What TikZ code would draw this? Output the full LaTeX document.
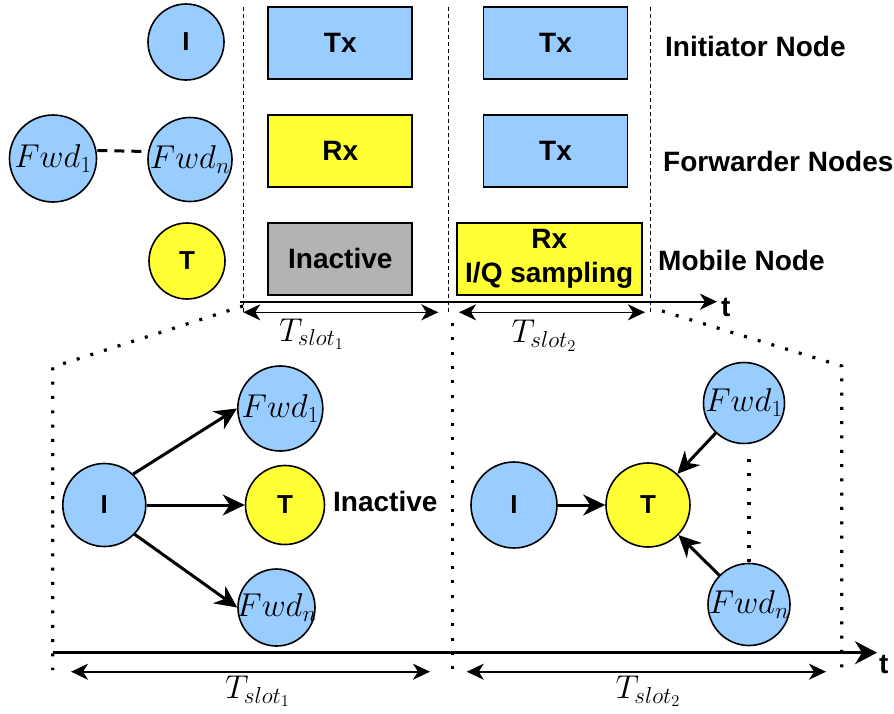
\RequirePackage{fix-cm}
\documentclass[tikz,border=0pt]{standalone}
\usepackage[no-math]{fontspec}
\setmainfont{Liberation Sans}
\usetikzlibrary{arrows.meta}
\definecolor{nblue}{RGB}{153,204,255}
\definecolor{nyellow}{RGB}{255,255,51}
\definecolor{ngray}{RGB}{179,179,179}
\newcommand\lbf{\fontsize{28}{33.5}\selectfont\bfseries}
\newcommand\clbf{\fontsize{26}{30}\selectfont\bfseries}
\newcommand\mthf{\fontsize{33}{38}\selectfont}
\tikzset{
  cir/.style={circle, draw=black, line width=1.6pt, minimum size=#1, inner sep=0pt, font=\clbf},
  mlab/.style={inner sep=0pt, font=\mthf},
  slotbox/.style={draw=black, line width=1.9pt, minimum width=144pt, minimum height=72pt, inner sep=0pt, font=\lbf},
  rowlab/.style={inner sep=0pt, font=\lbf},
  vdash/.style={line width=1.4pt, dash pattern=on 4pt off 3pt},
  dotl/.style={line width=3.2pt, dash pattern=on 3pt off 11.3pt},
  fwddash/.style={line width=3pt, dash pattern=on 10pt off 7pt},
  axisthin/.style={line width=1.8pt, -{Stealth[length=17pt,width=16pt,inset=5pt]}},
  axisthick/.style={line width=3pt, -{Stealth[length=22pt,width=23pt,inset=7pt]}},
  dbl/.style={line width=1.6pt, {Stealth[length=17pt,width=16pt,inset=5pt]}-{Stealth[length=17pt,width=16pt,inset=5pt]}},
  garrow/.style={line width=3pt, -{Stealth[length=22pt,width=21pt,inset=7pt]}}
}
\begin{document}
\begin{tikzpicture}[x=1pt, y=-1pt]
\useasboundingbox (0,0) rectangle (894,713);

% ---------- top part ----------
\node[cir=76pt, fill=nblue] (tI) at (186,42) {I};
\node[cir=87pt, fill=nblue, label={[mlab]center:$Fwd_1$}] (tF1) at (53,158.5) {};
\node[cir=84pt, fill=nblue, label={[mlab]center:$Fwd_n$}] (tFn) at (190,159.5) {};
\node[cir=76pt, fill=nyellow] (tT) at (187,261) {T};
\draw[fwddash] ([yshift=8pt]tF1.east) -- ([yshift=8pt]tFn.west);

\coordinate (d1t) at (243.3,7);  \coordinate (d1b) at (243.3,313);
\coordinate (d2t) at (448.3,7);  \coordinate (d2b) at (448.3,313);
\coordinate (d3t) at (650.7,7);  \coordinate (d3b) at (650.7,313);
\draw[vdash] (d1t) -- (d1b);
\draw[vdash] (d2t) -- (d2b);
\draw[vdash] (d3t) -- (d3b);

\node[slotbox, fill=nblue] (b11) at (340.3,43.3) {Tx};
\node[slotbox, fill=nblue] (b12) at (555.5,43.3) {Tx};
\node[slotbox, fill=nyellow] (b21) at (340.3,151.2) {Rx};
\node[slotbox, fill=nblue] (b22) at (555.5,151.2) {Tx};
\node[slotbox, fill=ngray] (b31) at (340.3,258.8) {Inactive};
\node[slotbox, fill=nyellow, minimum width=185pt, align=center] (b32) at (549.2,258.8) {Rx\\I/Q sampling};

\node[rowlab, anchor=base west] (l1) at (665,56.7) {Initiator Node};
\node[rowlab, anchor=base west] (l2) at (663,171.5) {Forwarder Nodes};
\node[rowlab, anchor=base west] (l3) at (658,270) {Mobile Node};

\coordinate (ax0) at (240,301.7); \coordinate (ax1) at (717,301.7);
\draw[axisthin] (ax0) -- (ax1);
\node[rowlab, anchor=base west] (tt) at (721,316.5) {t};

\coordinate (s1a) at (243.3,312.3); \coordinate (s1b) at (438.3,312.3);
\coordinate (s2a) at (459,312.3);   \coordinate (s2b) at (645,312.3);
\draw[dbl] (s1a) -- (s1b);
\draw[dbl] (s2a) -- (s2b);
\node[mlab, anchor=base] (ts1) at (311.5,341) {$T_{slot_1}$};
\node[mlab, anchor=base] (ts2) at (544,342.7) {$T_{slot_2}$};

% ---------- zoom lines ----------
\coordinate (zl0) at (243,306); \coordinate (zl1) at (52.7,367); \coordinate (zl2) at (52.7,670);
\coordinate (zr0) at (662,311); \coordinate (zr1) at (841.7,366); \coordinate (zr2) at (841.7,670);
\coordinate (zm0) at (452.5,323); \coordinate (zm1) at (452.5,670);
\draw[dotl] (zl0) -- (zl1) -- (zl2);
\draw[dotl] (zr0) -- (zr1) -- (zr2);
\draw[dotl] (zm0) -- (zm1);

% ---------- bottom axis ----------
\coordinate (bx0) at (52.7,652.7); \coordinate (bx1) at (877,652.7);
\draw[axisthick] (bx0) -- (bx1);
\node[rowlab, anchor=base west] (bt) at (879,673) {t};
\coordinate (u1a) at (71,671.7);    \coordinate (u1b) at (430,671.7);
\coordinate (u2a) at (466.7,671.7); \coordinate (u2b) at (826,671.7);
\draw[dbl] (u1a) -- (u1b);
\draw[dbl] (u2a) -- (u2b);
\node[mlab, anchor=base] (bs1) at (257.5,698.3) {$T_{slot_1}$};
\node[mlab, anchor=base] (bs2) at (648,698.3) {$T_{slot_2}$};

% ---------- bottom left: slot 1 ----------
\node[cir=83pt, fill=nblue] (lI) at (104.3,505) {I};
\node[cir=85pt, fill=nblue, label={[mlab]center:$Fwd_1$}] (lF1) at (280.3,408.5) {};
\node[cir=79pt, fill=nyellow] (lT) at (285,505) {T};
\node[cir=77pt, fill=nblue, label={[mlab]center:$Fwd_n$}] (lFn) at (276.5,607.5) {};
\node[rowlab, anchor=base west] (inact) at (333,511.5) {Inactive};
\draw[garrow] (lI.47) -- (lF1.west);
\draw[garrow] (lI) -- (lT);
\draw[garrow] (lI.-44) -- (lFn.west);

% ---------- bottom right: slot 2 ----------
\node[cir=86pt, fill=nblue] (rI) at (514,505) {I};
\node[cir=84pt, fill=nyellow] (rT) at (648,505) {T};
\node[cir=81pt, fill=nblue, label={[mlab]center:$Fwd_1$}] (rF1) at (744,403) {};
\node[cir=82pt, fill=nblue, label={[mlab]center:$Fwd_n$}] (rFn) at (749,604.5) {};
\draw[garrow] (rI) -- (rT);
\draw[garrow] (rF1) -- (rT);
\draw[garrow] (rFn) -- (rT);
\coordinate (vd1) at (749,459);
\draw[dotl] (vd1) -- (rFn.north);
\end{tikzpicture}
\end{document}
